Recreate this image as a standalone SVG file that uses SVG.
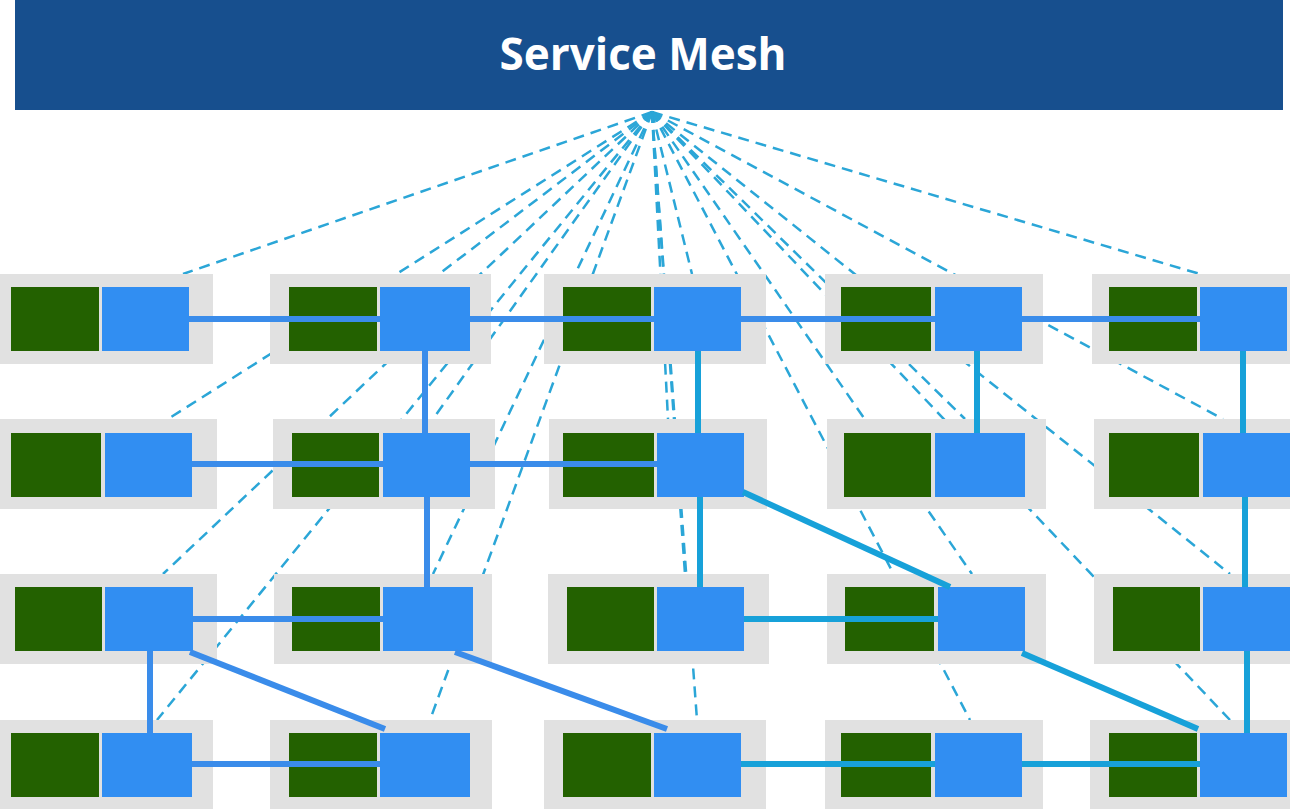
<svg xmlns="http://www.w3.org/2000/svg" width="1290" height="809" viewBox="0 0 1290 809">
<style>
.bg{fill:#e1e1e1}
.sc{fill:#236100}
.px{fill:#318ef2}
.dash{stroke:#2ba6d7;stroke-width:2.5;stroke-dasharray:11 7;fill:none}
.lb{stroke:#3a8cea;stroke-width:6;fill:none}
.lc{stroke:#17a1d9;stroke-width:6;fill:none}
.title{font-family:"Open Sans","Liberation Sans",Arial,sans-serif;font-weight:bold;font-size:44px;fill:#ffffff}
</style>
<rect x="0" y="0" width="1290" height="809" fill="#ffffff"/>
<g id="header">
<rect x="15" y="0" width="1268" height="110" fill="#174f8e"/>
<text class="title" x="643" y="70" text-anchor="middle">Service Mesh</text>
</g>
<g id="mesh-links">
<line class="dash" x1="652" y1="112" x2="183" y2="274"/>
<line class="dash" x1="652" y1="112" x2="439" y2="274"/>
<line class="dash" x1="652" y1="112" x2="692" y2="274"/>
<line class="dash" x1="652" y1="112" x2="1200" y2="274"/>
<line class="dash" x1="652" y1="112" x2="168" y2="419"/>
<line class="dash" x1="652" y1="112" x2="433" y2="419"/>
<line class="dash" x1="652" y1="112" x2="668" y2="419"/>
<line class="dash" x1="652" y1="112" x2="965" y2="419"/>
<line class="dash" x1="652" y1="112" x2="1223" y2="419"/>
<line class="dash" x1="652" y1="112" x2="163" y2="574"/>
<line class="dash" x1="652" y1="112" x2="433" y2="574"/>
<line class="dash" x1="652" y1="112" x2="685" y2="574"/>
<line class="dash" x1="652" y1="112" x2="972" y2="574"/>
<line class="dash" x1="652" y1="112" x2="1230" y2="574"/>
<line class="dash" x1="652" y1="112" x2="157" y2="720"/>
<line class="dash" x1="652" y1="112" x2="430" y2="720"/>
<line class="dash" x1="652" y1="112" x2="697" y2="720"/>
<line class="dash" x1="652" y1="112" x2="970" y2="720"/>
<line class="dash" x1="652" y1="112" x2="1230" y2="720"/>
</g>
<g id="n-r1c1"><rect class="bg" x="0" y="274" width="213" height="90"/><rect class="sc" x="11" y="287" width="88" height="64"/><rect class="px" x="102" y="287" width="87" height="64"/></g>
<g id="n-r1c2"><rect class="bg" x="270" y="274" width="221" height="90"/><rect class="sc" x="289" y="287" width="88" height="64"/><rect class="px" x="380" y="287" width="90" height="64"/></g>
<g id="n-r1c3"><rect class="bg" x="544" y="274" width="222" height="90"/><rect class="sc" x="563" y="287" width="88" height="64"/><rect class="px" x="654" y="287" width="87" height="64"/></g>
<g id="n-r1c4"><rect class="bg" x="825" y="274" width="218" height="90"/><rect class="sc" x="841" y="287" width="90" height="64"/><rect class="px" x="935" y="287" width="87" height="64"/></g>
<g id="n-r1c5"><rect class="bg" x="1092" y="274" width="198" height="90"/><rect class="sc" x="1109" y="287" width="88" height="64"/><rect class="px" x="1200" y="287" width="87" height="64"/></g>
<g id="n-r2c1"><rect class="bg" x="0" y="419" width="217" height="90"/><rect class="sc" x="11" y="433" width="90" height="64"/><rect class="px" x="105" y="433" width="87" height="64"/></g>
<g id="n-r2c2"><rect class="bg" x="273" y="419" width="222" height="90"/><rect class="sc" x="292" y="433" width="87" height="64"/><rect class="px" x="383" y="433" width="87" height="64"/></g>
<g id="n-r2c3"><rect class="bg" x="549" y="419" width="218" height="90"/><rect class="sc" x="563" y="433" width="91" height="64"/><rect class="px" x="657" y="433" width="87" height="64"/></g>
<g id="n-r2c4"><rect class="bg" x="827" y="419" width="219" height="90"/><rect class="sc" x="844" y="433" width="87" height="64"/><rect class="px" x="935" y="433" width="90" height="64"/></g>
<g id="n-r2c5"><rect class="bg" x="1094" y="419" width="196" height="90"/><rect class="sc" x="1109" y="433" width="90" height="64"/><rect class="px" x="1203" y="433" width="87" height="64"/></g>
<g id="n-r3c1"><rect class="bg" x="0" y="574" width="217" height="90"/><rect class="sc" x="15" y="587" width="87" height="64"/><rect class="px" x="105" y="587" width="88" height="64"/></g>
<g id="n-r3c2"><rect class="bg" x="274" y="574" width="218" height="90"/><rect class="sc" x="292" y="587" width="88" height="64"/><rect class="px" x="383" y="587" width="90" height="64"/></g>
<g id="n-r3c3"><rect class="bg" x="548" y="574" width="221" height="90"/><rect class="sc" x="567" y="587" width="87" height="64"/><rect class="px" x="657" y="587" width="87" height="64"/></g>
<g id="n-r3c4"><rect class="bg" x="827" y="574" width="219" height="90"/><rect class="sc" x="845" y="587" width="89" height="64"/><rect class="px" x="938" y="587" width="87" height="64"/></g>
<g id="n-r3c5"><rect class="bg" x="1094" y="574" width="196" height="90"/><rect class="sc" x="1113" y="587" width="87" height="64"/><rect class="px" x="1203" y="587" width="87" height="64"/></g>
<g id="n-r4c1"><rect class="bg" x="0" y="720" width="213" height="89"/><rect class="sc" x="11" y="733" width="88" height="64"/><rect class="px" x="102" y="733" width="90" height="64"/></g>
<g id="n-r4c2"><rect class="bg" x="270" y="720" width="222" height="89"/><rect class="sc" x="289" y="733" width="88" height="64"/><rect class="px" x="380" y="733" width="90" height="64"/></g>
<g id="n-r4c3"><rect class="bg" x="544" y="720" width="222" height="89"/><rect class="sc" x="563" y="733" width="88" height="64"/><rect class="px" x="654" y="733" width="87" height="64"/></g>
<g id="n-r4c4"><rect class="bg" x="825" y="720" width="218" height="89"/><rect class="sc" x="841" y="733" width="90" height="64"/><rect class="px" x="935" y="733" width="87" height="64"/></g>
<g id="n-r4c5"><rect class="bg" x="1090" y="720" width="200" height="89"/><rect class="sc" x="1109" y="733" width="88" height="64"/><rect class="px" x="1200" y="733" width="87" height="64"/></g>
<g id="connectors">
<line class="lb" x1="189" y1="319" x2="380" y2="319"/>
<line class="lb" x1="470" y1="319" x2="654" y2="319"/>
<line class="lb" x1="741" y1="319" x2="935" y2="319"/>
<line class="lb" x1="1022" y1="319" x2="1200" y2="319"/>
<line class="lb" x1="192" y1="464" x2="383" y2="464"/>
<line class="lb" x1="470" y1="464" x2="657" y2="464"/>
<line class="lb" x1="193" y1="619" x2="383" y2="619"/>
<line class="lc" x1="744" y1="619" x2="938" y2="619"/>
<line class="lb" x1="192" y1="764" x2="380" y2="764"/>
<line class="lc" x1="741" y1="764" x2="935" y2="764"/>
<line class="lc" x1="1022" y1="764" x2="1200" y2="764"/>
<line class="lb" x1="425" y1="351" x2="425" y2="433"/>
<line class="lb" x1="427" y1="497" x2="427" y2="587"/>
<line class="lc" x1="698" y1="351" x2="698" y2="433"/>
<line class="lc" x1="700" y1="497" x2="700" y2="587"/>
<line class="lc" x1="977" y1="351" x2="977" y2="433"/>
<line class="lc" x1="1243" y1="351" x2="1243" y2="433"/>
<line class="lc" x1="1245" y1="497" x2="1245" y2="587"/>
<line class="lc" x1="1247" y1="651" x2="1247" y2="733"/>
<line class="lb" x1="150" y1="651" x2="150" y2="733"/>
<line class="lc" x1="743" y1="492" x2="950" y2="587"/>
<line class="lc" x1="1022" y1="653" x2="1198" y2="729"/>
<line class="lb" x1="190" y1="652" x2="385" y2="729"/>
<line class="lb" x1="455" y1="652" x2="667" y2="729"/>
</g>
</svg>
